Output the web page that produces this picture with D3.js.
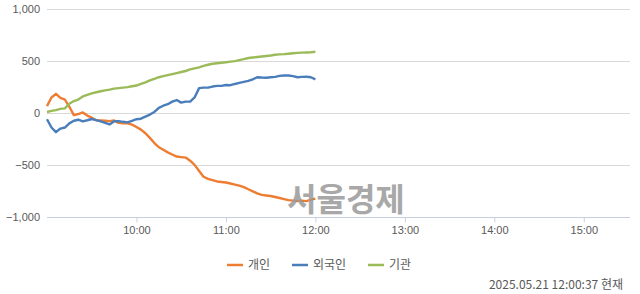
<!DOCTYPE html>
<html>
<head>
<meta charset="utf-8">
<script src="https://cdn.jsdelivr.net/npm/d3@7"></script>
<style>
  body { margin: 0; background: #fff; }
  svg { display: block; font-family: "Noto Sans CJK KR", "Noto Sans", sans-serif; }
</style>
</head>
<body>
<script>
// times every 3 minutes from 09:00 to 12:00
const times = ['09:00','09:03','09:06','09:09','09:12','09:15','09:18','09:21','09:24','09:27',
  '09:30','09:33','09:36','09:39','09:42','09:45','09:48','09:51','09:54','09:57',
  '10:00','10:03','10:06','10:09','10:12','10:15','10:18','10:21','10:24','10:27',
  '10:30','10:33','10:36','10:39','10:42','10:45','10:48','10:51','10:54','10:57',
  '11:00','11:03','11:06','11:09','11:12','11:15','11:18','11:21','11:24','11:27',
  '11:30','11:33','11:36','11:39','11:42','11:45','11:48','11:51','11:54','11:57','12:00'];

// 개인
const individual = [66,150,185,145,130,60,-20,-10,5,-25,
  -45,-70,-72,-75,-78,-72,-95,-100,-100,-112,
  -135,-160,-195,-240,-290,-330,-355,-380,-400,-420,
  -425,-430,-460,-500,-560,-615,-635,-648,-660,-665,
  -670,-680,-690,-700,-715,-735,-755,-775,-790,-795,
  -800,-810,-820,-830,-840,-845,-850,-845,-850,-835,-825];

// 외국인
const foreign = [-60,-140,-185,-150,-140,-100,-75,-65,-80,-70,
  -58,-68,-80,-95,-110,-80,-78,-85,-90,-75,
  -60,-55,-35,-15,10,50,70,85,110,125,
  100,110,110,150,240,245,245,255,262,262,
  270,268,280,290,300,310,325,345,342,340,
  345,348,358,362,362,355,345,348,350,345,325];

// 기관
const institution = [10,20,28,40,45,90,115,130,160,175,
  190,200,210,218,225,235,240,245,250,258,
  265,280,295,315,330,345,355,365,375,385,
  395,405,420,430,440,455,465,475,480,485,
  490,495,500,510,520,530,535,540,545,550,
  555,562,565,568,572,576,580,582,584,586,590];

const yTicks = [-1000, -500, 0, 500, 1000];
const xTickLabels = ['10:00','11:00','12:00','13:00','14:00','15:00'];
const seriesNames = ['개인', '외국인', '기관'];
const seriesColors = ['#ED7D31', '#4A7EBB', '#9BBB59'];
const stamp = '2025.05.21 12:00:37 현재';
const watermark = '서울경제';

const width = 640, height = 294;
const parse = d3.timeParse('%H:%M');

const svg = d3.select('body').append('svg')
  .attr('width', width)
  .attr('height', height);

const x = d3.scaleTime()
  .domain([parse('09:00'), parse('15:31')])
  .range([47, 630]);
const y = d3.scaleLinear()
  .domain([-1000, 1000])
  .range([216.7, 9.3]);

// grid
svg.append('g')
  .selectAll('line')
  .data(yTicks.filter(d => d !== -1000))
  .join('line')
  .attr('x1', 47).attr('x2', 630)
  .attr('y1', d => Math.round(y(d)) + 0.5)
  .attr('y2', d => Math.round(y(d)) + 0.5)
  .attr('stroke', '#d9d9d9')
  .attr('stroke-width', 1);

// y axis labels
const yAxis = d3.axisLeft(y)
  .tickValues(yTicks)
  .tickSize(0)
  .tickPadding(7)
  .tickFormat(d3.format(','));
const yG = svg.append('g')
  .attr('transform', 'translate(47,0)')
  .call(yAxis);
yG.select('.domain').remove();
yG.selectAll('text')
  .attr('fill', '#595959')
  .style('font-size', '11px');

// x axis
const xAxis = d3.axisBottom(x)
  .tickValues(xTickLabels.map(parse))
  .tickSize(5)
  .tickPadding(4)
  .tickFormat(d3.timeFormat('%H:%M'));
const xG = svg.append('g')
  .attr('transform', `translate(0,${Math.round(y(-1000)) + 0.5})`)
  .call(xAxis);
xG.select('.domain')
  .attr('d', 'M47,0H630')
  .attr('stroke', '#c6cfe2');
xG.selectAll('.tick line').attr('stroke', '#c6cfe2');
xG.selectAll('text')
  .attr('fill', '#595959')
  .style('font-size', '11px');

// lines
const allSeries = [individual, foreign, institution];
const line = d3.line()
  .x((d, i) => x(parse(times[i])))
  .y(d => y(d));

svg.append('g')
  .selectAll('path')
  .data(allSeries)
  .join('path')
  .attr('d', d => line(d))
  .attr('fill', 'none')
  .attr('stroke', (d, i) => seriesColors[i])
  .attr('stroke-width', 2.4)
  .attr('stroke-linejoin', 'round');

// watermark
svg.append('text')
  .attr('x', 287)
  .attr('y', 211)
  .attr('fill', '#9a9a9a')
  .attr('opacity', 0.85)
  .style('font-size', '32px')
  .style('font-weight', 'bold')
  .text(watermark);

// legend
const legendX = [227, 292, 368];
const legend = svg.append('g')
  .selectAll('g')
  .data(seriesNames)
  .join('g')
  .attr('transform', (d, i) => `translate(${legendX[i]},265)`);
legend.append('line')
  .attr('x1', 0).attr('x2', 16)
  .attr('stroke', (d, i) => seriesColors[i])
  .attr('stroke-width', 2.5);
legend.append('text')
  .attr('x', 21)
  .attr('dy', '0.35em')
  .attr('fill', '#595959')
  .style('font-size', '12px')
  .text(d => d);

// timestamp
svg.append('text')
  .attr('x', 623)
  .attr('y', 289)
  .attr('text-anchor', 'end')
  .attr('fill', '#595959')
  .style('font-size', '12px')
  .text(stamp);
</script>
</body>
</html>
